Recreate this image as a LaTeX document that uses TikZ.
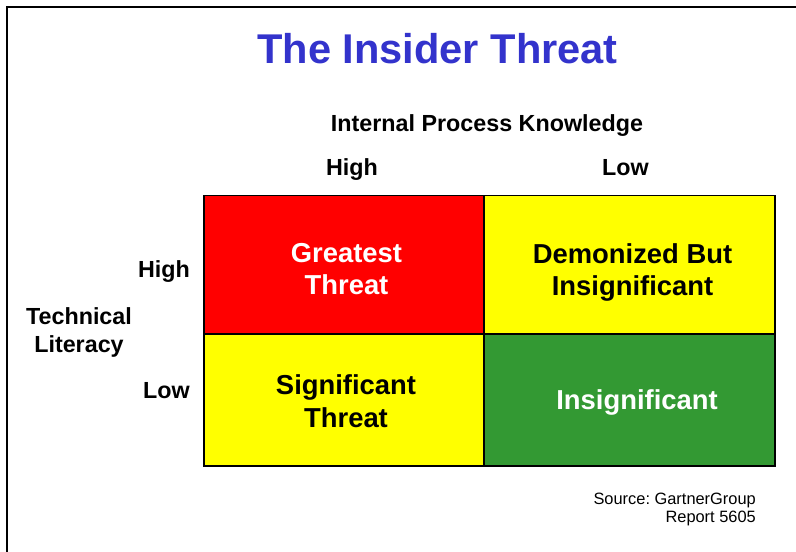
\documentclass[tikz,border=0pt]{standalone}
\usepackage{fontspec}
\setmainfont{Liberation Sans}
\definecolor{titleblue}{HTML}{3333CC}
\definecolor{cellred}{HTML}{FF0000}
\definecolor{cellyellow}{HTML}{FFFF00}
\definecolor{cellgreen}{HTML}{339933}
\tikzset{
  cell/.style={draw=black, line width=1.5bp, inner sep=0pt, anchor=north west},
  axislabel/.style={inner sep=0pt, font=\bfseries\fontsize{23.3bp}{28bp}\selectfont, align=center},
  celltext/.style={inner sep=0pt, font=\bfseries\fontsize{27.4bp}{32.5bp}\selectfont, align=center},
}
\begin{document}
\frenchspacing
\begin{tikzpicture}[x=1bp,y=-1bp]
\useasboundingbox (0,0) rectangle (796,552);
\fill[white] (0,0) rectangle (796,552);
% frame
\draw[line width=2bp] (7,552) -- (7,7) -- (796,7);
% title
\node[inner sep=0pt, anchor=base, text=titleblue, font=\bfseries\fontsize{41.6bp}{48bp}\selectfont] (title) at (437.5,63.5) {The Insider Threat};
% axis labels
\node[axislabel, anchor=base] (ipk) at (487,131.5) {Internal Process Knowledge};
\node[axislabel, anchor=base] (colhigh) at (352,176) {High};
\node[axislabel, anchor=base] (collow) at (625.5,176) {Low};
\node[axislabel, anchor=base east] (rowhigh) at (190,277.5) {High};
\node[axislabel, anchor=base east] (rowlow) at (190,398.5) {Low};
\node[axislabel, anchor=north] (tl) at (79,307.5) {Technical\\Literacy};
% cells
\node[cell, fill=cellred, minimum width=280bp, minimum height=138bp] (c11) at (203,195) {};
\node[cell, fill=cellyellow, minimum width=291bp, minimum height=138bp] (c12) at (483,195) {};
\node[cell, fill=cellyellow, minimum width=280bp, minimum height=132bp] (c21) at (203,333) {};
\node[cell, fill=cellgreen, minimum width=291bp, minimum height=132bp] (c22) at (483,333) {};
% cell texts
\node[celltext, anchor=north, text=white] (t11) at (346.5,243) {Greatest\\Threat};
\node[celltext, anchor=north, text=black] (t12) at (632.5,243) {Demonized But\\Insignificant};
\node[celltext, anchor=north, text=black] (t21) at (346,374.5) {Significant\\Threat};
\node[celltext, anchor=base, text=white] (t22) at (637,409.5) {Insignificant};
% source
\node[inner sep=0pt, anchor=north east, align=right, font=\fontsize{16.4bp}{17.5bp}\selectfont] (src) at (756,493) {Source: GartnerGroup\\Report 5605};
\end{tikzpicture}
\end{document}
